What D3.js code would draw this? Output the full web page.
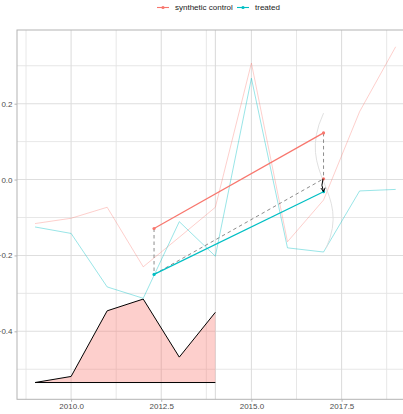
<!DOCTYPE html>
<html>
<head>
<meta charset="utf-8">
<script src="https://cdn.jsdelivr.net/npm/d3@7"></script>
<style>
  html, body { margin: 0; padding: 0; background: #fff; }
  svg { display: block; font-family: "Liberation Sans", Arial, Helvetica, sans-serif; }
</style>
</head>
<body>
<svg id="chart" width="403" height="414"></svg>
<script>
// ---- data ----
const years = [2009, 2010, 2011, 2012, 2013, 2014, 2015, 2016, 2017, 2018, 2019];
const syntheticSeries = [-0.116, -0.102, -0.073, -0.230, -0.152, -0.073, 0.307, -0.164, -0.054, 0.179, 0.350];
const treatedSeries   = [-0.125, -0.142, -0.283, -0.313, -0.111, -0.202, 0.267, -0.180, -0.191, -0.030, -0.026];

const preYears = [2009, 2010, 2011, 2012, 2013, 2014];
const preGapTop = [-0.535, -0.519, -0.346, -0.315, -0.468, -0.350];
const preGapBase = -0.535;

const didYears = [2012.3, 2017];
const didSynthetic = [-0.129, 0.123];
const didTreated = [-0.250, -0.032];
const counterfactualValue = 0.002;
const treatmentYear = 2014;

// S-shaped grey annotation curve: start, control 1, control 2, end (year, value)
const sCurveYears = [2017, 2016.2, 2017.8, 2017.07];
const sCurveValues = [0.175, 0.011, -0.028, -0.181];

const xTicks = [2010, 2012.5, 2015, 2017.5];
const yTicks = [-0.4, -0.2, 0.0, 0.2];
const xMinor = [2008.75, 2011.25, 2013.75, 2016.25, 2018.75];
const yMinor = [-0.5, -0.3, -0.1, 0.1, 0.3];
const seriesNames = ["synthetic control", "treated"];
const seriesColors = ["#F8766D", "#00BFC4"];

// ---- layout ----
const svg = d3.select("#chart");
const pLeft = 17, pTop = 30, pRight = 413.7, pBottom = 399.3;
const x = d3.scaleLinear().domain([2008.5, 2019.5]).range([pLeft, pRight]);
const y = d3.scaleLinear().domain([-0.5792, 0.3942]).range([pBottom, pTop]);

// grid
const g = svg.append("g");
g.selectAll(".vminor").data(xMinor).join("line")
  .attr("x1", d => x(d)).attr("x2", d => x(d)).attr("y1", pTop).attr("y2", pBottom)
  .attr("stroke", "#e4e4e4").attr("stroke-width", 0.9);
g.selectAll(".hminor").data(yMinor).join("line")
  .attr("x1", pLeft).attr("x2", pRight).attr("y1", d => y(d)).attr("y2", d => y(d))
  .attr("stroke", "#e4e4e4").attr("stroke-width", 0.9);
g.selectAll(".vmajor").data(xTicks).join("line")
  .attr("x1", d => x(d)).attr("x2", d => x(d)).attr("y1", pTop).attr("y2", pBottom)
  .attr("stroke", "#dedede").attr("stroke-width", 1.1);
g.selectAll(".hmajor").data(yTicks).join("line")
  .attr("x1", pLeft).attr("x2", pRight).attr("y1", d => y(d)).attr("y2", d => y(d))
  .attr("stroke", "#dedede").attr("stroke-width", 1.1);

// treatment vline
svg.append("line")
  .attr("x1", x(treatmentYear)).attr("x2", x(treatmentYear)).attr("y1", pTop).attr("y2", pBottom)
  .attr("stroke", "#d9d9d9").attr("stroke-width", 1);

// pre-period gap area
const areaGen = d3.area().x(d => x(d[0])).y0(y(preGapBase)).y1(d => y(d[1]));
const areaData = preYears.map((yr, i) => [yr, preGapTop[i]]);
svg.append("path").datum(areaData).attr("d", areaGen)
  .attr("fill", "#F8766D").attr("fill-opacity", 0.35);
svg.append("path").datum(areaData)
  .attr("d", d3.line().x(d => x(d[0])).y(d => y(d[1])))
  .attr("fill", "none").attr("stroke", "#000").attr("stroke-width", 1);
svg.append("line")
  .attr("x1", x(preYears[0])).attr("x2", x(preYears[preYears.length - 1]))
  .attr("y1", y(preGapBase)).attr("y2", y(preGapBase))
  .attr("stroke", "#000").attr("stroke-width", 1);

// faint series
const line = d3.line().x(d => x(d[0])).y(d => y(d[1]));
[syntheticSeries, treatedSeries].forEach((s, i) => {
  svg.append("path").datum(years.map((yr, j) => [yr, s[j]]))
    .attr("d", line).attr("fill", "none")
    .attr("stroke", seriesColors[i]).attr("stroke-opacity", i === 0 ? 0.35 : 0.4)
    .attr("stroke-width", 1);
});

// grey S-curve
const sp = sCurveYears.map((yr, i) => [x(yr), y(sCurveValues[i])]);
svg.append("path")
  .attr("d", `M${sp[0][0]},${sp[0][1]} C${sp[1][0]},${sp[1][1]} ${sp[2][0]},${sp[2][1]} ${sp[3][0]},${sp[3][1]}`)
  .attr("fill", "none").attr("stroke", "#dcdcdc").attr("stroke-width", 0.9);

// dashed helper lines
const dashes = [
  [[didYears[0], didSynthetic[0]], [didYears[0], didTreated[0]]],
  [[didYears[0], didTreated[0]], [didYears[1], counterfactualValue]],
  [[didYears[1], didSynthetic[1]], [didYears[1], counterfactualValue]]
];
svg.selectAll(".dash").data(dashes).join("line")
  .attr("x1", d => x(d[0][0])).attr("y1", d => y(d[0][1]))
  .attr("x2", d => x(d[1][0])).attr("y2", d => y(d[1][1]))
  .attr("stroke", "#7f7f7f").attr("stroke-width", 0.9).attr("stroke-dasharray", "3.5,3");

// bold DID lines
[didSynthetic, didTreated].forEach((s, i) => {
  svg.append("path").datum(didYears.map((yr, j) => [yr, s[j]]))
    .attr("d", line).attr("fill", "none")
    .attr("stroke", seriesColors[i]).attr("stroke-width", 1.2);
  svg.selectAll(null).data(didYears.map((yr, j) => [yr, s[j]])).join("circle")
    .attr("cx", d => x(d[0])).attr("cy", d => y(d[1])).attr("r", 1.6)
    .attr("fill", seriesColors[i]);
});
svg.append("circle").attr("cx", x(didYears[1])).attr("cy", y(counterfactualValue))
  .attr("r", 1.6).attr("fill", seriesColors[0]);

// black arrow
const ax0 = x(didYears[1]), ay0 = y(counterfactualValue);
const ax1 = x(didYears[1]), ay1 = y(didTreated[1]);
svg.append("path")
  .attr("d", `M${ax0 - 0.5},${ay0} Q${ax0 - 3},${(ay0 + ay1) / 2} ${ax1},${ay1}`)
  .attr("fill", "none").attr("stroke", "#000").attr("stroke-width", 1);
svg.append("path")
  .attr("d", `M${ax1 - 2.6},${ay1 - 3.6} L${ax1},${ay1} L${ax1 + 1.6},${ay1 - 4}`)
  .attr("fill", "none").attr("stroke", "#000").attr("stroke-width", 1);

// panel border
svg.append("rect").attr("x", pLeft).attr("y", pTop)
  .attr("width", pRight - pLeft).attr("height", pBottom - pTop)
  .attr("fill", "none").attr("stroke", "#b3b3b3").attr("stroke-width", 1);

// axes
const xAxis = d3.axisBottom(x).tickValues(xTicks).tickFormat(d3.format(".1f")).tickSize(2.5).tickPadding(2);
const gx = svg.append("g").attr("transform", `translate(0,${pBottom})`).call(xAxis);
gx.select(".domain").remove();
gx.selectAll("line").attr("stroke", "#b3b3b3");
gx.selectAll("text").attr("fill", "#4d4d4d").style("font-size", "8px");

const yAxis = d3.axisLeft(y).tickValues(yTicks).tickFormat(d3.format(".1f")).tickSize(2.5).tickPadding(2);
const gy = svg.append("g").attr("transform", `translate(${pLeft},0)`).call(yAxis);
gy.select(".domain").remove();
gy.selectAll("line").attr("stroke", "#b3b3b3");
gy.selectAll("text").attr("fill", "#4d4d4d").style("font-size", "8px");

// legend
const legendItems = [
  { name: seriesNames[0], color: seriesColors[0], kx: 157, tx: 175 },
  { name: seriesNames[1], color: seriesColors[1], kx: 237, tx: 255 }
];
const lg = svg.append("g");
legendItems.forEach(it => {
  lg.append("line").attr("x1", it.kx).attr("x2", it.kx + 12).attr("y1", 7.5).attr("y2", 7.5)
    .attr("stroke", it.color).attr("stroke-width", 1.1);
  lg.append("circle").attr("cx", it.kx + 6).attr("cy", 7.5).attr("r", 1.6).attr("fill", it.color);
  lg.append("text").attr("x", it.tx).attr("y", 10.3).text(it.name)
    .attr("fill", "#1a1a1a").style("font-size", "8px");
});
</script>
</body>
</html>
